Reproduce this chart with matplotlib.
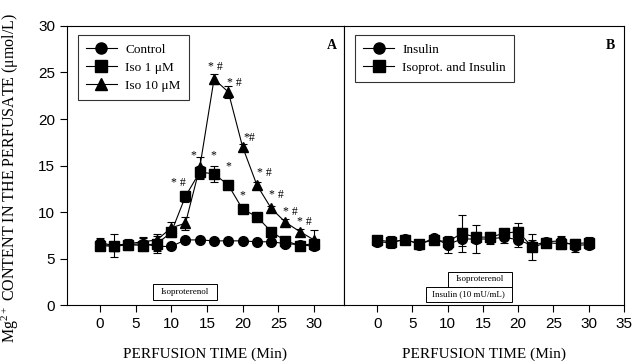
import numpy as np
import matplotlib.pyplot as plt
from matplotlib.patches import Rectangle
from matplotlib.lines import Line2D

plt.rcParams['mathtext.fontset'] = 'custom'
plt.rcParams['mathtext.rm'] = 'Liberation Serif'
plt.rcParams['mathtext.it'] = 'Liberation Serif'

# perfusion time points (min)
time = [0, 2, 4, 6, 8, 10, 12, 14, 16, 18, 20, 22, 24, 26, 28, 30]

# panel A
control = [6.7, 6.4, 6.5, 6.6, 6.3, 6.3, 7.0, 7.0, 6.9, 6.9, 6.9, 6.8, 6.8, 6.6, 6.5, 6.3]
control_err = [0.5, 1.2, 0.6, 0.6, 0.7, 0.3, 0.3, 0.2, 0.2, 0.2, 0.2, 0.2, 0.2, 0.3, 0.3, 0.3]
iso1 = [6.4, 6.3, 6.5, 6.4, 6.6, 7.8, 11.7, 14.3, 14.1, 12.9, 10.3, 9.5, 7.9, 6.9, 6.4, 6.6]
iso1_err = [0.4, 0.4, 0.5, 0.6, 0.8, 0.5, 0.6, 0.7, 0.9, 0.4, 0.3, 0.3, 0.3, 0.3, 0.3, 0.3]
iso10 = [6.5, 6.4, 6.6, 6.8, 7.0, 8.3, 8.8, 14.8, 24.3, 22.9, 17.0, 12.9, 10.4, 8.9, 7.9, 7.0]
iso10_err = [0.4, 0.4, 0.4, 0.5, 0.6, 0.6, 0.7, 1.1, 0.5, 0.6, 0.3, 0.3, 0.3, 0.3, 0.3, 1.1]

# significance marks (x, y, text)
marks = [(11.0, 13.1, "* #"), (13.1, 16.1, "*"), (15.9, 16.1, "*"), (18.0, 14.9, "*"),
         (20.0, 11.8, "*"), (16.2, 25.6, "* #"), (18.9, 23.9, "* #"), (21.0, 18.0, "*#"),
         (23.1, 14.2, "* #"), (24.8, 11.8, "* #"), (26.7, 10.0, "* #"), (28.7, 8.9, "* #")]

# panel B
insulin = [6.8, 6.7, 7.1, 6.5, 7.2, 6.5, 7.1, 7.1, 7.1, 7.3, 7.0, 6.4, 6.8, 6.9, 6.4, 6.5]
insulin_err = [0.4, 0.6, 0.3, 0.3, 0.3, 0.9, 0.7, 1.5, 0.5, 0.6, 0.8, 0.6, 0.4, 0.5, 0.7, 0.5]
iso_ins = [7.0, 6.8, 7.0, 6.6, 7.0, 6.8, 7.7, 7.3, 7.3, 7.7, 7.9, 6.2, 6.7, 6.6, 6.6, 6.7]
iso_ins_err = [0.4, 0.6, 0.3, 0.3, 0.3, 0.4, 2.0, 0.6, 0.5, 0.5, 0.9, 1.4, 0.4, 0.6, 0.4, 0.6]

serif = "Liberation Serif"
sans = "Liberation Sans"

fig = plt.figure(figsize=(6.35, 3.64), dpi=100)
axA = fig.add_axes([0.1055, 0.162, 0.4362, 0.7666])
axB = fig.add_axes([0.5417, 0.162, 0.4410, 0.7666])

kw = dict(color="black", lw=0.8, capsize=3, elinewidth=0.8, capthick=0.8, markersize=7)

axA.errorbar(time, control, yerr=control_err, marker="o", **kw)
axA.errorbar(time, iso1, yerr=iso1_err, marker="s", **kw)
axA.errorbar(time, iso10, yerr=iso10_err, marker="^", **kw)
for x, y, t in marks:
    axA.text(x, y, t, fontsize=8.5, family=serif, ha="center", va="center")

axB.errorbar(time, iso_ins, yerr=iso_ins_err, marker="s", zorder=2, **kw)
axB.errorbar(time, insulin, yerr=insulin_err, marker="o", zorder=3, **kw)

for ax in (axA, axB):
    ax.set_ylim(0, 30)
    ax.tick_params(direction="out", length=5, width=0.8, labelsize=11)
    for s in ax.spines.values():
        s.set_linewidth(0.8)
    ax.set_xlabel("PERFUSION TIME (Min)", family=serif, fontsize=11, labelpad=12)

axA.set_xlim(-4.6, 34.2)
axA.set_xticks([0, 5, 10, 15, 20, 25, 30])
axA.set_yticks([0, 5, 10, 15, 20, 25, 30])
axA.set_ylabel("Mg$^{\\mathrm{2+}}$ CONTENT IN THE PERFUSATE (\u03bcmol/L)", family=serif, fontsize=11.5)
axA.yaxis.set_label_coords(-0.165, 0.455)
for lbl in axA.get_xticklabels() + axA.get_yticklabels():
    lbl.set_family(sans)

axB.set_xlim(-4.7, 35)
axB.set_xticks([0, 5, 10, 15, 20, 25, 30, 35])
axB.set_yticks([])
for lbl in axB.get_xticklabels():
    lbl.set_family(sans)

axA.text(0.955, 0.93, "A", transform=axA.transAxes, family=serif, fontsize=10, weight="bold", ha="center", va="center")
axB.text(0.95, 0.93, "B", transform=axB.transAxes, family=serif, fontsize=10, weight="bold", ha="center", va="center")

# infusion period boxes
def period_box(ax, x0, x1, y0, y1, label):
    ax.add_patch(Rectangle((x0, y0), x1 - x0, y1 - y0, fill=True, facecolor="white",
                           edgecolor="black", lw=0.7, zorder=4))
    ax.text((x0 + x1) / 2, (y0 + y1) / 2, label, family=serif, fontsize=6.5,
            ha="center", va="center", zorder=5)

period_box(axA, 7.4, 16.4, 0.5, 2.3, "Isoproterenol")
period_box(axB, 10.0, 19.1, 1.95, 3.6, "Isoproterenol")
period_box(axB, 6.9, 19.1, 0.3, 1.95, "Insulin (10 mU/mL)")

def handle(m):
    return Line2D([], [], color="black", lw=0.8, marker=m, markersize=8)

leg_kw = dict(loc="upper left", bbox_to_anchor=(0.015, 0.99), prop={"family": serif, "size": 9.5},
              frameon=True, fancybox=False, edgecolor="black", handlelength=2.4,
              handletextpad=0.6, borderpad=0.6, labelspacing=0.45)
legA = axA.legend([handle("o"), handle("s"), handle("^")],
                  ["Control", "Iso 1 \u03bcM", "Iso 10 \u03bcM"], **leg_kw)
legA.get_frame().set_linewidth(0.8)
legB = axB.legend([handle("o"), handle("s")], ["Insulin", "Isoprot. and Insulin"], **leg_kw)
legB.get_frame().set_linewidth(0.8)

fig.savefig("out.png", dpi=100)
